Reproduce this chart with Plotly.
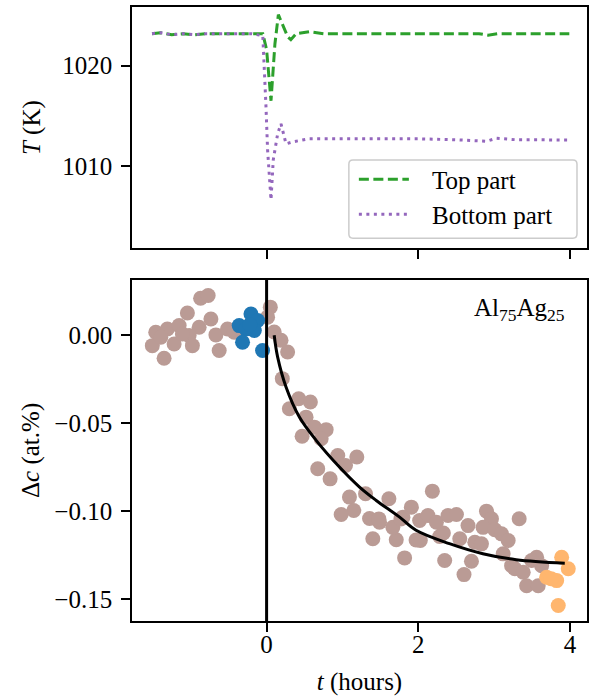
import plotly.graph_objects as go

# ---------------- data ----------------
# top panel: temperatures (K) vs time (hours)
top_t = [-1.51, -1.40, -1.25, -1.10, -0.95, -0.80, -0.60, -0.40, -0.20, -0.05, 0.00, 0.027, 0.058,
         0.08, 0.11, 0.155, 0.21, 0.278, 0.32, 0.39, 0.56, 0.75, 1.0, 1.5, 2.0, 2.5, 2.8, 2.92, 3.05,
         3.3, 3.6, 3.99]
top_T = [1023.2, 1023.3, 1023.1, 1023.2, 1023.1, 1023.2, 1023.2, 1023.2, 1023.2, 1023.2, 1021.6, 1018.9,
         1016.5, 1018.9, 1022.2, 1025.1, 1024.1, 1022.9, 1022.6, 1023.2, 1023.4, 1023.2, 1023.2, 1023.2,
         1023.2, 1023.2, 1023.2, 1023.05, 1023.2, 1023.2, 1023.2, 1023.2]

bot_t = [-1.51, -1.40, -1.25, -1.10, -0.95, -0.80, -0.60, -0.40, -0.20, -0.05, -0.03, -0.008, 0.013,
         0.058, 0.088, 0.146, 0.19, 0.22, 0.256, 0.344, 0.564, 1.0, 1.5, 2.0, 2.5, 2.9, 3.03, 3.3,
         3.6, 3.99]
bot_T = [1023.2, 1023.3, 1023.1, 1023.2, 1023.1, 1023.2, 1023.2, 1023.2, 1023.2, 1023.0, 1019.9, 1015.9,
         1011.6, 1006.6, 1010.6, 1013.2, 1014.2, 1013.2, 1012.2, 1012.4, 1012.7, 1012.7, 1012.7, 1012.7,
         1012.6, 1012.45, 1012.75, 1012.6, 1012.6, 1012.57]

# bottom panel: concentration change (at.%) vs time (hours)
brown_t = [-0.87, -0.77, -1.044, -0.734, -1.461, -1.308, -1.153, -0.889, -1.021, -1.506, -1.219,
           -0.978, -1.351, -0.668, -0.625, -0.515, -0.427, -1.395, -1.11,
           0.049, 0.013, 0.10, 0.19, 0.277, 0.207, 0.423, 0.577, 0.30, 0.52, 0.63, 0.785, 0.468,
           0.719, 0.938, 1.189, 1.04, 0.674, 0.837, 1.304, 1.092, 1.612, 1.149, 0.983, 1.357,
           2.185, 1.489, 1.40, 1.709, 1.819, 1.664, 1.908, 1.797, 2.017, 2.127, 2.238, 2.391,
           2.502, 2.026, 2.281, 2.347, 2.546, 2.655, 2.744, 2.832, 2.70, 2.602, 2.898, 2.964,
           2.853, 3.008, 3.096, 3.184, 3.329, 3.118, 3.229, 3.272, 3.382, 3.427, 3.58, 3.559,
           3.625, 3.493, 1.48, 1.77, 1.97, 2.33]
brown_c = [0.0211, 0.0226, 0.0127, 0.0093, 0.0017, 0.0036, 0.0055, 0.0046, -0.0002, -0.0059, -0.005,
           -0.0059, -0.0131, 0.0002, -0.0087, 0.0036, 0.0017, -0.0011, 0.0007,
           0.016, 0.0103, 0.0019, -0.0028, -0.0095, -0.0247, -0.0361, -0.038, -0.0418, -0.0466,
           -0.0523, -0.0537, -0.0575, -0.0589, -0.0684, -0.0693, -0.0741, -0.076, -0.0817, -0.0902,
           -0.0921, -0.093, -0.0997, -0.102, -0.1043, -0.0887, -0.1064, -0.1158, -0.1164, -0.1267,
           -0.1093, -0.0978, -0.1035, -0.1054, -0.1026, -0.1064, -0.1026, -0.102, -0.1168, -0.1145,
           -0.1282, -0.1158, -0.1083, -0.1178, -0.1187, -0.1286, -0.1362, -0.1001, -0.1044, -0.1093,
           -0.1107, -0.113, -0.1168, -0.1044, -0.1244, -0.1311, -0.1329, -0.1349, -0.1425, -0.1425,
           -0.1263, -0.1311, -0.1282, -0.1045, -0.1045, -0.1165, -0.1125]

blue_t = [-0.206, -0.361, -0.119, -0.162, -0.272, -0.317, -0.053, -0.22]
blue_c = [0.0121, 0.0055, 0.0084, 0.0027, 0.0036, -0.004, -0.0087, 0.006]

orange_t = [3.889, 3.976, 3.691, 3.823, 3.75, 3.844]
orange_c = [-0.1263, -0.1329, -0.1377, -0.1396, -0.1385, -0.1538]

fit_t = [0.10, 0.145, 0.256, 0.432, 0.653, 0.96, 1.225, 1.445, 1.753, 1.97, 2.41, 2.85, 3.29, 3.93]
fit_c = [0.0, -0.0123, -0.0294, -0.0465, -0.0598, -0.075, -0.0864, -0.094, -0.1035, -0.111,
         -0.1186, -0.1243, -0.1277, -0.1297]

x_ticks = [0, 2, 4]
T_ticks = [1010, 1020]
c_ticks = [-0.15, -0.10, -0.05, 0.00]
c_ticklabels = ["\u22120.15", "\u22120.10", "\u22120.05", "0.00"]
legend_labels = ["Top part", "Bottom part"]

# ---------------- figure ----------------
FONT = "Liberation Serif"
FS = 25
GREEN = "#2ca02c"
PURPLE = "#9467bd"
GREEN_DASH = "10px,4.5px"
PURPLE_DASH = "3px,4.5px"

fig = go.Figure()

fig.add_trace(go.Scatter(x=top_t, y=top_T, mode="lines", name=legend_labels[0], showlegend=False,
                         line=dict(color=GREEN, width=3, dash=GREEN_DASH),
                         xaxis="x2", yaxis="y2"))
fig.add_trace(go.Scatter(x=bot_t, y=bot_T, mode="lines", name=legend_labels[1], showlegend=False,
                         line=dict(color=PURPLE, width=3, dash=PURPLE_DASH),
                         xaxis="x2", yaxis="y2"))

mk = dict(size=15, line=dict(width=0))
fig.add_trace(go.Scatter(x=brown_t, y=brown_c, mode="markers", showlegend=False,
                         marker=dict(color="rgb(186,155,149)", **mk), xaxis="x", yaxis="y"))
fig.add_trace(go.Scatter(x=blue_t, y=blue_c, mode="markers", showlegend=False,
                         marker=dict(color="#1f77b4", **mk), xaxis="x", yaxis="y"))
fig.add_trace(go.Scatter(x=orange_t, y=orange_c, mode="markers", showlegend=False,
                         marker=dict(color="rgb(255,182,110)", **mk), xaxis="x", yaxis="y"))
fig.add_trace(go.Scatter(x=fit_t, y=fit_c, mode="lines", showlegend=False,
                         line=dict(color="black", width=3, shape="spline"), xaxis="x", yaxis="y"))

axis_common = dict(showline=True, linecolor="black", linewidth=1.6, mirror=True,
                   ticks="outside", ticklen=9, tickwidth=1.6, tickcolor="black",
                   showgrid=False, zeroline=False, automargin=False,
                   tickfont=dict(family=FONT, size=FS, color="black"))

xr = [-1.774, 4.223]
top_dom = [0.6072, 1.0]
bot_dom = [0.0, 0.5558]

fig.update_layout(
    width=597, height=696,
    margin=dict(l=132, r=10, t=7, b=75),
    plot_bgcolor="white", paper_bgcolor="white",
    font=dict(family=FONT, size=FS, color="black"),
    xaxis=dict(range=xr, domain=[0, 1], anchor="y", tickvals=x_ticks, ticklabelstandoff=-9,
               title=dict(text="<i>t</i> (hours)", font=dict(family=FONT, size=FS), standoff=16),
               **axis_common),
    yaxis=dict(range=[-0.1626, 0.0316], domain=bot_dom, anchor="x",
               tickvals=c_ticks, ticktext=c_ticklabels, ticklabelstandoff=4,
               title=dict(text="Δ<i>c</i> (at.%)", font=dict(family=FONT, size=FS), standoff=8),
               **axis_common),
    xaxis2=dict(range=xr, domain=[0, 1], anchor="y2", tickvals=x_ticks, showticklabels=False,
                **axis_common),
    yaxis2=dict(range=[1001.77, 1025.87], domain=top_dom, anchor="x2", tickvals=T_ticks,
                ticklabelstandoff=4,
                title=dict(text="<i>T</i> (K)", font=dict(family=FONT, size=FS), standoff=14),
                **axis_common),
    showlegend=False,
)

# legend box (drawn in the top panel's domain coordinates)
bx0, bx1, by0, by1 = 0.4766, 0.978, 0.0415, 0.3651
rx, ry = 0.009, 0.017
legend_path = (f"M {bx0+rx},{by0} L {bx1-rx},{by0} Q {bx1},{by0} {bx1},{by0+ry} "
               f"L {bx1},{by1-ry} Q {bx1},{by1} {bx1-rx},{by1} L {bx0+rx},{by1} "
               f"Q {bx0},{by1} {bx0},{by1-ry} L {bx0},{by0+ry} Q {bx0},{by0} {bx0+rx},{by0} Z")
fig.add_shape(type="path", path=legend_path, xref="x2 domain", yref="y2 domain",
              fillcolor="rgba(255,255,255,0.85)", line=dict(color="#cccccc", width=1.5))
for lab, col, dsh, ly in [(legend_labels[0], GREEN, GREEN_DASH, 0.2863),
                          (legend_labels[1], PURPLE, PURPLE_DASH, 0.1411)]:
    fig.add_shape(type="line", xref="x2 domain", yref="y2 domain",
                  x0=0.4986, x1=0.6085, y0=ly, y1=ly,
                  line=dict(color=col, width=3, dash=dsh))
    fig.add_annotation(text=lab, xref="x2 domain", yref="y2 domain", x=0.6547, y=ly - 0.006,
                       xanchor="left", yanchor="middle", showarrow=False,
                       font=dict(family=FONT, size=FS, color="black"))

# vertical line at t = 0 in the bottom panel
fig.add_shape(type="line", xref="x", yref="y domain", x0=0, x1=0, y0=0, y1=1,
              line=dict(color="black", width=3))

# composition label
fig.add_annotation(text="Al<sub>75</sub>Ag<sub>25</sub>", xref="x domain", yref="y domain",
                   x=0.955, y=0.912, xanchor="right", yanchor="middle", showarrow=False,
                   font=dict(family=FONT, size=FS, color="black"))

fig.write_html("out.html", config={"displayModeBar": False},
               post_script="document.body.style.margin='0px';")
